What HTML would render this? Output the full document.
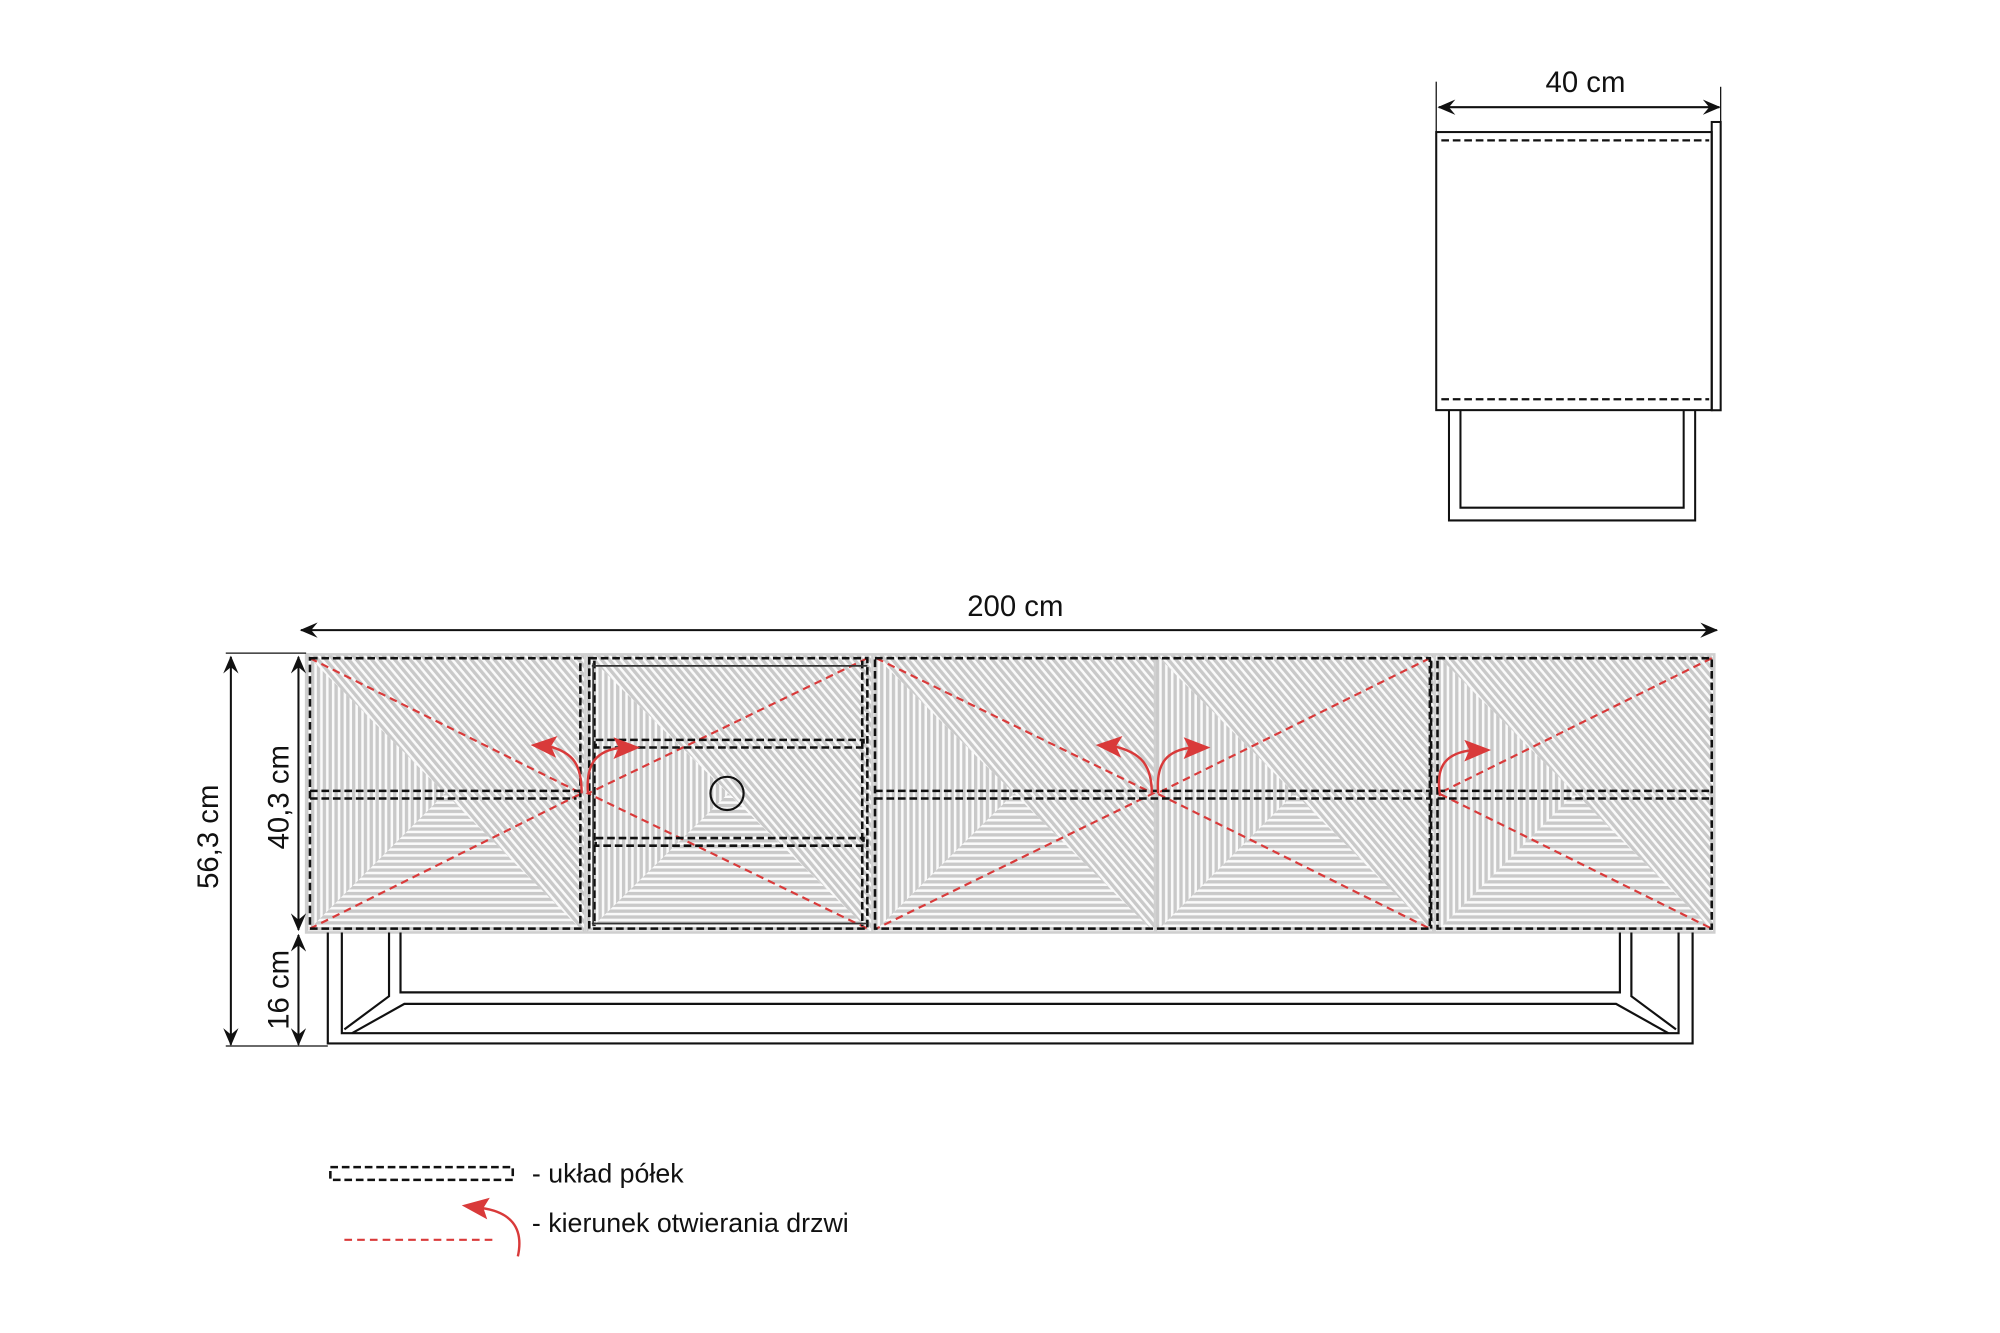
<!DOCTYPE html>
<html><head><meta charset="utf-8"><style>
html,body{margin:0;padding:0;background:#fff;}
svg{display:block;}
text{font-family:"Liberation Sans",sans-serif;fill:#111;}
</style></head><body>
<svg width="2000" height="1333" viewBox="0 0 1568 1045" xmlns="http://www.w3.org/2000/svg">
<defs>
<pattern id="pv" patternUnits="userSpaceOnUse" width="4.6" height="10"><rect width="4.6" height="10" fill="#fafafa"/><rect width="2.6" height="10" fill="#c9c9c9"/></pattern>
<pattern id="ph" patternUnits="userSpaceOnUse" width="10" height="4.6"><rect width="10" height="4.6" fill="#fafafa"/><rect width="10" height="2.6" fill="#c9c9c9"/></pattern>
<pattern id="pd" patternUnits="userSpaceOnUse" width="4.6" height="10" patternTransform="rotate(-40)"><rect width="4.6" height="10" fill="#fafafa"/><rect width="2.6" height="10" fill="#c9c9c9"/></pattern>
<marker id="ah" viewBox="0 0 14 12" refX="13" refY="6" markerWidth="14" markerHeight="12" markerUnits="userSpaceOnUse" orient="auto-start-reverse"><path d="M0,0 L14,6 L0,12 L5,6 Z" fill="#111"/></marker>
</defs>
<rect width="1568" height="1045" fill="#fff"/>

<g id="panels">
<polygon points="240,513 458,513 458,731" fill="url(#pd)"/>
<polygon points="240,513 240,731 349,622" fill="url(#pv)"/>
<polygon points="240,731 458,731 349,622" fill="url(#ph)"/>
<polygon points="460,513 683,513 683,731" fill="url(#pd)"/>
<polygon points="460,513 460,731 571,622" fill="url(#pv)"/>
<polygon points="460,731 683,731 571,622" fill="url(#ph)"/>
<polygon points="685,513 905,513 905,731" fill="url(#pd)"/>
<polygon points="685,513 685,731 795,622" fill="url(#pv)"/>
<polygon points="685,731 905,731 795,622" fill="url(#ph)"/>
<polygon points="906,513 1124,513 1124,731" fill="url(#pd)"/>
<polygon points="906,513 906,731 1015,622" fill="url(#pv)"/>
<polygon points="906,731 1124,731 1015,622" fill="url(#ph)"/>
<polygon points="1126,513 1344,513 1344,731" fill="url(#pd)"/>
<polygon points="1126,513 1126,731 1235,622" fill="url(#pv)"/>
<polygon points="1126,731 1344,731 1235,622" fill="url(#ph)"/>
</g>
<rect x="240" y="513" width="1104" height="218" fill="none" stroke="#cfcfcf" stroke-width="2"/>
<g stroke="#d0d0d0" stroke-width="2"><line x1="459" y1="513" x2="459" y2="731"/><line x1="684" y1="513" x2="684" y2="731"/><line x1="905.5" y1="513" x2="905.5" y2="731"/><line x1="1125" y1="513" x2="1125" y2="731"/></g>

<g stroke="#d93a3a" stroke-width="1.7" stroke-dasharray="6 4" fill="none">
<path d="M243,516 L456,622 L243,728"/>
<path d="M680,516 L461,622 L680,728"/>
<path d="M687,516 L904,622 L687,728"/>
<path d="M1121,516 L907,622 L1121,728"/>
<path d="M1342,516 L1128,622 L1342,728"/>
</g>

<g stroke="#111" stroke-width="2" stroke-dasharray="6 3" fill="none">
<rect x="243" y="516" width="212" height="212"/>
<line x1="243" y1="620" x2="455" y2="620"/><line x1="243" y1="626" x2="452" y2="626"/>
<rect x="462" y="516" width="218" height="212"/>
<line x1="466" y1="518" x2="466" y2="726"/><line x1="676" y1="518" x2="676" y2="726"/>
<rect x="467" y="580" width="210" height="6"/>
<rect x="467" y="657" width="210" height="6"/>
<rect x="686" y="516" width="435" height="212"/>
<line x1="686" y1="620" x2="1121" y2="620"/><line x1="686" y1="626" x2="1121" y2="626"/>
<rect x="1127" y="516" width="215" height="212"/>
<line x1="1127" y1="620" x2="1342" y2="620"/><line x1="1127" y1="626" x2="1342" y2="626"/>
<line x1="1122" y1="518" x2="1122" y2="728"/>
</g>
<g stroke="#333" stroke-width="1.3" fill="none">
<line x1="464" y1="522" x2="680" y2="522"/><line x1="464" y1="724" x2="680" y2="724"/>
<line x1="465" y1="520" x2="465" y2="726"/>
</g>
<circle cx="570" cy="622" r="13" fill="none" stroke="#111" stroke-width="1.7"/>

<g stroke="#d93a3a" stroke-width="1.9" fill="none">
<path d="M456,622 C456,600 450,590 430,585"/>
<path d="M461,622 C459,598 468,588 488,586"/>
<path d="M903,622 C903,600 895,590 873,585"/>
<path d="M908,622 C906,598 915,588 935,586"/>
<path d="M1129,624 C1125,600 1134,590 1155,588"/>
<path d="M406,985 C411,962 400,950 377,947"/>
</g>
<g fill="#d93a3a">
<path d="M416,584 L437,577 L432,585 L436,594 Z"/>
<path d="M502,586 L481,578 L485,586 L481,595 Z"/>
<path d="M859,584 L880,577 L875,585 L879,594 Z"/>
<path d="M949,586 L928,578 L932,586 L928,595 Z"/>
<path d="M1169,588 L1148,580 L1152,588 L1148,597 Z"/>
<path d="M362,945 L384,939 L379,947 L382,956 Z"/>
</g>

<g stroke="#111" stroke-width="1.7" fill="none">
<path d="M257,731 V818 H1327 V731"/>
<path d="M268,731 V810 H1316 V731"/>
<path d="M305,731 V781 L270,807"/>
<path d="M314,731 V778 H1270 V731"/>
<path d="M1279,731 V781 L1314,807"/>
<path d="M276,810 L317,787 H1267 L1308,810"/>
</g>

<g stroke="#111" stroke-width="1.6" fill="none">
<line x1="236" y1="494" x2="1346" y2="494" marker-start="url(#ah)" marker-end="url(#ah)"/>
<line x1="181" y1="515" x2="181" y2="819" marker-start="url(#ah)" marker-end="url(#ah)"/>
<line x1="234" y1="515" x2="234" y2="729" marker-start="url(#ah)" marker-end="url(#ah)"/>
<line x1="234" y1="733" x2="234" y2="819" marker-start="url(#ah)" marker-end="url(#ah)"/>
<line x1="177" y1="512" x2="240" y2="512" stroke-width="1"/>
<line x1="177" y1="820" x2="257" y2="820" stroke-width="1"/>
</g>
<text x="796" y="483" font-size="23" text-anchor="middle">200 cm</text>
<text transform="translate(171,656) rotate(-90)" font-size="23" text-anchor="middle">56,3 cm</text>
<text transform="translate(226,625) rotate(-90)" font-size="23" text-anchor="middle">40,3 cm</text>
<text transform="translate(226,776) rotate(-90)" font-size="23" text-anchor="middle">16 cm</text>

<g stroke="#111" stroke-width="1.6" fill="none">
<rect x="1126" y="103.5" width="216" height="218"/>
<rect x="1342" y="95.6" width="7" height="226"/>
<path d="M1136,322 V408 H1329 V322"/>
<path d="M1145,322 V398 H1320 V322"/>
<line x1="1128" y1="84" x2="1348" y2="84" marker-start="url(#ah)" marker-end="url(#ah)"/>
<line x1="1126" y1="64" x2="1126" y2="103" stroke-width="1"/>
<line x1="1349" y1="68" x2="1349" y2="95" stroke-width="1"/>
<g stroke-dasharray="6 3" stroke-width="1.8">
<line x1="1130" y1="110" x2="1340" y2="110"/>
<line x1="1130" y1="313" x2="1340" y2="313"/>
</g>
</g>
<text x="1243" y="72" font-size="23" text-anchor="middle">40 cm</text>

<rect x="259" y="915" width="143" height="10" fill="none" stroke="#111" stroke-width="2" stroke-dasharray="6 3"/>
<text x="417" y="927" font-size="21">- układ półek</text>
<line x1="270" y1="972" x2="388" y2="972" stroke="#d93a3a" stroke-width="1.7" stroke-dasharray="6 4"/>
<text x="417" y="966" font-size="21">- kierunek otwierania drzwi</text>
</svg>
</body></html>
